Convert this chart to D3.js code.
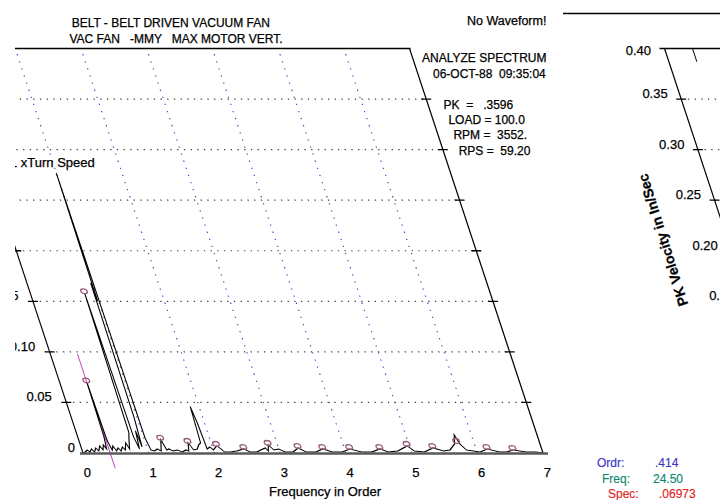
<!DOCTYPE html>
<html><head><meta charset="utf-8">
<script src="https://cdn.jsdelivr.net/npm/d3@7"></script>
<style>
body{margin:0;background:#fff;}
text{font-family:"Liberation Sans",Arial,sans-serif;fill:#000;stroke:#000;stroke-width:0.25px;}
</style></head><body>
<svg id="c" width="720" height="500"></svg>
<script>
// ---- data ----
const orders = [0.00,0.04,0.08,0.11,0.15,0.18,0.22,0.25,0.29,0.32,0.35,0.38,0.40,0.414,0.43,0.46,0.49,0.52,0.56,0.59,0.63,0.66,0.70,0.73,0.77,0.80,0.828,0.85,0.88,0.91,0.93,0.955,0.97,0.985,1.00,1.02,1.05,1.10,1.15,1.20,1.25,1.29,1.33,1.38,1.45,1.52,1.58,1.62,1.65,1.70,1.76,1.80,1.84,1.865,1.89,1.91,1.96,2.00,2.07,2.12,2.16,2.25,2.35,2.47,2.55,2.65,2.72,2.80,2.83,2.86,2.92,3.00,3.08,3.20,3.30,3.40,3.55,3.67,3.80,3.95,4.08,4.25,4.40,4.54,4.65,4.80,4.97,5.05,5.20,5.35,5.50,5.60,5.70,5.74,5.78,5.85,5.95,6.05,6.17,6.35,6.45,6.56,6.75,6.90,7.00];
const amps   = [0.000,0.001,0.003,0.001,0.004,0.001,0.005,0.002,0.007,0.003,0.008,0.004,0.016,0.0697,0.012,0.003,0.007,0.002,0.005,0.002,0.006,0.003,0.010,0.004,0.014,0.020,0.158,0.016,0.004,0.022,0.006,0.035,0.168,0.150,0.277,0.015,0.003,0.002,0.004,0.002,0.013,0.003,0.004,0.002,0.003,0.001,0.003,0.002,0.010,0.003,0.004,0.008,0.010,0.046,0.030,0.004,0.006,0.003,0.007,0.004,0.001,0.001,0.002,0.004,0.001,0.001,0.003,0.005,0.002,0.008,0.003,0.004,0.001,0.001,0.005,0.001,0.001,0.004,0.001,0.001,0.004,0.001,0.001,0.004,0.001,0.002,0.007,0.002,0.001,0.005,0.002,0.003,0.009,0.018,0.009,0.003,0.002,0.001,0.004,0.001,0.001,0.003,0.001,0.001,0.000];
const markerOrders = [0.414,0.828,1.25,1.65,2.07,2.47,2.86,3.30,3.67,4.08,4.54,4.97,5.35,5.74,6.17,6.56];
const markerAmps   = [0.0697,0.158,0.013,0.010,0.007,0.004,0.008,0.005,0.004,0.004,0.004,0.007,0.005,0.010,0.004,0.003];
const xTicks = [0,1,2,3,4,5,6,7];
const yTicks = [0,0.05,0.10,0.15,0.20,0.25,0.30,0.35,0.40];
const yTickLabels = ["0","0.05","0.10","0.15","0.20","0.25","0.30","0.35","0.40"];
const cursorOrder = 0.414;
const titleLines = ["BELT - BELT DRIVEN VACUUM FAN","VAC FAN   -MMY   MAX MOTOR VERT."];
const infoLines = ["PK  =   .3596","LOAD = 100.0","RPM =  3552.","RPS =  59.20"];
const headerLines = ["ANALYZE SPECTRUM","06-OCT-88  09:35:04"];
const readoutNames = ["Ordr:","Freq:","Spec:"];
const readoutValues = [".414","24.50",".06973"];
const readoutColors = ["#3a34c8","#0c8a70","#e02424"];

// ---- layout ----
const svg = d3.select("#c");
const T = 0.33, Y0 = 453;
const skew = `translate(0,${Y0}) skewX(${Math.atan(T)*180/Math.PI}) translate(0,${-Y0})`;
const sx = (ux, yy) => ux + T*(yy - Y0);
const x = d3.scaleLinear().domain([0,7]).range([83,543]);
const y = d3.scaleLinear().domain([0,0.40]).range([453,48.5]);

const defs = svg.append("defs");
defs.append("clipPath").attr("id","clipMain").append("rect").attr("x",15).attr("y",0).attr("width",547).attr("height",500);
defs.append("clipPath").attr("id","clipRight").append("rect").attr("x",560).attr("y",0).attr("width",160).attr("height",500);

// ===== main panel =====
const main = svg.append("g").attr("clip-path","url(#clipMain)");
const g = main.append("g").attr("transform", skew);

g.selectAll("line.hg").data(yTicks.filter(v => v > 0 && v < 0.40)).join("line")
  .attr("x1", x(0)).attr("x2", x(7)).attr("y1", d => y(d)).attr("y2", d => y(d))
  .attr("stroke","#3a3a3a").attr("stroke-width",1.2).attr("stroke-dasharray","1.3,5.4");
g.selectAll("line.vg").data(xTicks.filter(k => k > 0 && k < 7)).join("line")
  .attr("x1", d => x(d)).attr("x2", d => x(d)).attr("y1", y(0)).attr("y2", y(0.40))
  .attr("stroke","#4848d0").attr("stroke-width",1.2).attr("stroke-dasharray","1.3,5.8");
g.append("line").attr("x1",x(0)).attr("x2",x(0)).attr("y1",y(0)).attr("y2",y(0.40)).attr("stroke","#000").attr("stroke-width",1.2);
g.append("line").attr("x1",x(7)).attr("x2",x(7)).attr("y1",y(0)).attr("y2",y(0.40)).attr("stroke","#000").attr("stroke-width",1.3);
g.append("line").attr("x1",x(0)).attr("x2",x(7)+1).attr("y1",y(0.40)).attr("y2",y(0.40)).attr("stroke","#000").attr("stroke-width",1.5);
const tickVals = yTicks.filter(v => v > 0 && v < 0.40);
[x(0), x(7)].forEach(ax => {
  g.selectAll(null).data(tickVals).join("line")
    .attr("x1", ax-5).attr("x2", ax+5).attr("y1", d => y(d)).attr("y2", d => y(d))
    .attr("stroke","#000").attr("stroke-width",1.3);
});
g.append("line").attr("x1",x(cursorOrder)).attr("x2",x(cursorOrder))
  .attr("y1",y(0.098)).attr("y2",y(-0.015)).attr("stroke","#c040c8").attr("stroke-width",1);
const pts = orders.map((o,i) => [o, amps[i]]);
g.append("path").datum(pts)
  .attr("d", d3.line().x(d => x(d[0])).y(d => y(d[1])))
  .attr("fill","none").attr("stroke","#000").attr("stroke-width",1.1);
g.selectAll("ellipse.mk").data(markerOrders.map((o,i)=>[o,markerAmps[i]])).join("ellipse")
  .attr("cx", d => x(d[0])).attr("cy", d => y(d[1]) - 2)
  .attr("rx",3.2).attr("ry",2.4).attr("fill","none").attr("stroke","#9a5a7a").attr("stroke-width",1.3);

main.append("line").attr("x1",80).attr("x2",548).attr("y1",453.5).attr("y2",453.5)
  .attr("stroke","#5a5a5a").attr("stroke-width",2.6);

// y tick labels (left) – only those that reach into the visible panel
main.selectAll("text.yl").data(yTicks.slice(0,4)).join("text")
  .attr("x", (d,i) => sx(x(0), y(d)) - (i===0 ? 8 : 14.5))
  .attr("y", d => y(d) - 1)
  .attr("text-anchor","end").style("font-size","13px")
  .text((d,i) => yTickLabels[i]);

main.append("text").attr("x",10).attr("y",167).style("font-size","13px").style("white-space","pre").text("1 xTurn Speed");

svg.selectAll("text.xl").data(xTicks).join("text")
  .attr("x", d => x(d) + 4.3).attr("y", 477)
  .attr("text-anchor","middle").style("font-size","13px")
  .text(d => d);
svg.append("text").attr("x",325).attr("y",496).attr("text-anchor","middle").style("font-size","13px").text("Frequency in Order");

svg.selectAll("text.tt").data(titleLines).join("text")
  .attr("x",(d,i) => sx(313, [22,38][i])).attr("y",(d,i) => [27,43][i])
  .attr("text-anchor","middle").style("font-size","12px").style("white-space","pre").text(d => d);
svg.append("text").attr("x",467).attr("y",25).style("font-size","12.5px").text("No Waveform!");
svg.selectAll("text.hd").data(headerLines).join("text")
  .attr("x",(d,i)=>[422,433][i]).attr("y",(d,i)=>[62,78][i])
  .style("font-size","12px").style("white-space","pre").text(d => d);
svg.selectAll("text.info").data(infoLines).join("text")
  .attr("x",(d,i)=> sx(557, [109,124,139,155][i])).attr("y",(d,i)=>[109,124,139,155][i])
  .style("font-size","12px").style("white-space","pre").text(d => d);

// ===== right panel =====
const right = svg.append("g").attr("clip-path","url(#clipRight)");
right.append("line").attr("x1",563).attr("x2",720).attr("y1",13.5).attr("y2",13.5).attr("stroke","#000").attr("stroke-width",1.5);
const rg = right.append("g").attr("transform", skew);
const rx0 = 798;
rg.selectAll("line.rh").data(tickVals).join("line")
  .attr("x1", rx0).attr("x2", rx0+400).attr("y1", d => y(d)).attr("y2", d => y(d))
  .attr("stroke","#3a3a3a").attr("stroke-width",1.2).attr("stroke-dasharray","1.3,5.4");
rg.append("line").attr("x1",rx0).attr("x2",rx0).attr("y1",y(0)).attr("y2",y(0.40)).attr("stroke","#000").attr("stroke-width",1.3);
rg.append("line").attr("x1",rx0-5).attr("x2",rx0+400).attr("y1",y(0.40)).attr("y2",y(0.40)).attr("stroke","#000").attr("stroke-width",1.5);
rg.selectAll("line.rt").data(tickVals).join("line")
  .attr("x1", rx0-5).attr("x2", rx0+5).attr("y1", d => y(d)).attr("y2", d => y(d))
  .attr("stroke","#000").attr("stroke-width",1.3);
rg.append("line").attr("x1",rx0+28).attr("x2",rx0+28).attr("y1",y(0.40)).attr("y2",y(0.387)).attr("stroke","#000").attr("stroke-width",1);
// right-panel labels – only those that reach into the visible area
const rLabels = yTicks.map((v,i)=>({v,i})).filter(o => o.v >= 0.15);
right.selectAll("text.ryl").data(rLabels).join("text")
  .attr("x", d => sx(rx0, y(d.v)) - 13.5)
  .attr("y", d => d.i === 8 ? y(d.v) + 6 : y(d.v) - 1)
  .attr("text-anchor","end").style("font-size","13px")
  .text(d => yTickLabels[d.i]);
right.append("text").attr("transform","translate(663,240) rotate(-107.3)")
  .attr("text-anchor","middle").attr("dy","0.35em")
  .style("font-size","14px").style("font-weight","bold").text("PK Velocity in In/Sec");
[467,483,498].forEach((yy,i) => {
  right.append("text").attr("x",[597,602,608][i]).attr("y",yy).style("font-size","12px")
    .style("fill",readoutColors[i]).style("stroke",readoutColors[i]).style("stroke-width","0.15px").text(readoutNames[i]);
  right.append("text").attr("x",[655,653,659][i]).attr("y",yy).style("font-size","12px")
    .style("fill",readoutColors[i]).style("stroke",readoutColors[i]).style("stroke-width","0.15px").text(readoutValues[i]);
});
</script>
</body></html>
